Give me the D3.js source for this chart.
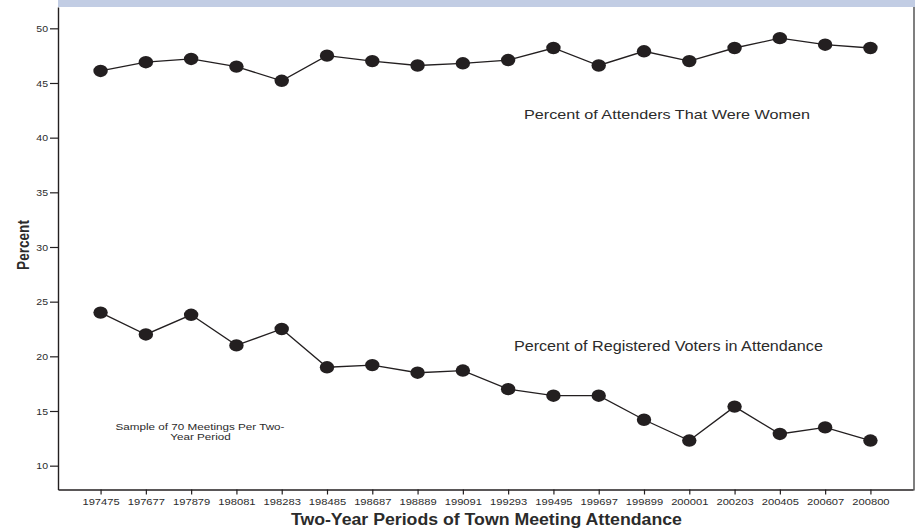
<!DOCTYPE html>
<html>
<head>
<meta charset="utf-8">
<script src="https://cdn.jsdelivr.net/npm/d3@7"></script>
<style>
  html, body { margin: 0; padding: 0; background: #fff; }
  svg { display: block; font-family: Arial, "Liberation Sans", sans-serif; }
</style>
</head>
<body>
<svg id="chart" width="915" height="528"></svg>
<script>
// ---- data ----
const periods = ["197475","197677","197879","198081","198283","198485","198687","198889","199091",
                 "199293","199495","199697","199899","200001","200203","200405","200607","200800"];
const womenPct = [46.1, 46.9, 47.2, 46.5, 45.2, 47.5, 47.0, 46.6, 46.8,
                  47.1, 48.2, 46.6, 47.9, 47.0, 48.2, 49.1, 48.5, 48.2];
const votersPct = [24.0, 22.0, 23.8, 21.0, 22.5, 19.0, 19.2, 18.5, 18.7,
                   17.0, 16.4, 16.4, 14.2, 12.3, 15.4, 12.9, 13.5, 12.3];
const yTicks = [10, 15, 20, 25, 30, 35, 40, 45, 50];
const womenLabel = "Percent of Attenders That Were Women";
const votersLabel = "Percent of Registered Voters in Attendance";
const noteLines = ["Sample of 70 Meetings Per Two-", "Year Period"];
const xTitle = "Two-Year Periods of Town Meeting Attendance";
const yTitle = "Percent";

// ---- layout ----
const svg = d3.select("#chart");
const pLeft = 58, pRight = 913, pTop = 7, pBottom = 489.5;
const ink = "#231f20";

const x = d3.scalePoint().domain(periods).range([pLeft, pRight]).padding(0.94);
const y = d3.scaleLinear().domain([7.82, 51.95]).range([pBottom, pTop]);

// top band
svg.append("rect").attr("x", pLeft).attr("y", 0).attr("width", 915 - pLeft).attr("height", pTop)
  .attr("fill", "#c2cde4");
// right border
svg.append("line").attr("x1", 914).attr("x2", 914).attr("y1", pTop).attr("y2", pBottom + 1)
  .attr("stroke", "#7f7f7f").attr("stroke-width", 2);

// axes
const gx = svg.append("g").attr("transform", `translate(0,${pBottom})`)
  .call(d3.axisBottom(x).tickSizeInner(5).tickSizeOuter(0).tickPadding(3));
gx.select(".domain").attr("stroke", ink).attr("stroke-width", 1.4);
gx.selectAll(".tick line").attr("stroke", ink).attr("stroke-width", 1.2);
gx.selectAll(".tick text").attr("font-size", 9.2).attr("fill", "#2b2b2b")
  .attr("y", 11.8).attr("dy", "0.35em")
  .attr("textLength", 37.3).attr("lengthAdjust", "spacingAndGlyphs");

const gy = svg.append("g").attr("transform", `translate(${pLeft},0)`)
  .call(d3.axisLeft(y).tickValues(yTicks).tickSizeInner(8).tickSizeOuter(0).tickPadding(2));
gy.select(".domain").attr("stroke", ink).attr("stroke-width", 1.4);
gy.selectAll(".tick line").attr("stroke", ink).attr("stroke-width", 1.2);
gy.selectAll(".tick text").attr("font-size", 9.6).attr("fill", "#2b2b2b")
  .attr("textLength", 11.7).attr("lengthAdjust", "spacingAndGlyphs");

// series
const line = d3.line().x((d, i) => x(periods[i])).y(d => y(d));
[womenPct, votersPct].forEach(series => {
  svg.append("path").datum(series).attr("d", line)
    .attr("fill", "none").attr("stroke", ink).attr("stroke-width", 1.3);
  svg.append("g").selectAll("ellipse").data(series).join("ellipse")
    .attr("cx", (d, i) => x(periods[i])).attr("cy", d => y(d))
    .attr("rx", 7.2).attr("ry", 6.2).attr("fill", ink);
});

// annotations
function label(txt, cx, base, size, width, weight) {
  svg.append("text").attr("x", cx).attr("y", base).attr("text-anchor", "middle")
    .attr("font-size", size).attr("font-weight", weight || "normal").attr("fill", "#2b2b2b")
    .attr("textLength", width).attr("lengthAdjust", "spacingAndGlyphs").text(txt);
}
label(womenLabel, 667, 119.3, 13.5, 286);
label(votersLabel, 668.4, 350.7, 14, 309);
label(noteLines[0], 200, 430, 9.4, 169);
label(noteLines[1], 200.5, 440, 9.4, 60.4);
label(xTitle, 486.4, 525.3, 16, 391, "bold");

// y title (rotated, horizontally stretched like the reference)
svg.append("text").attr("transform", "translate(29.3,245) scale(1.23,1) rotate(-90)")
  .attr("text-anchor", "middle").attr("font-size", 13.6).attr("font-weight", "bold")
  .attr("fill", "#2b2b2b").text(yTitle);
</script>
</body>
</html>
